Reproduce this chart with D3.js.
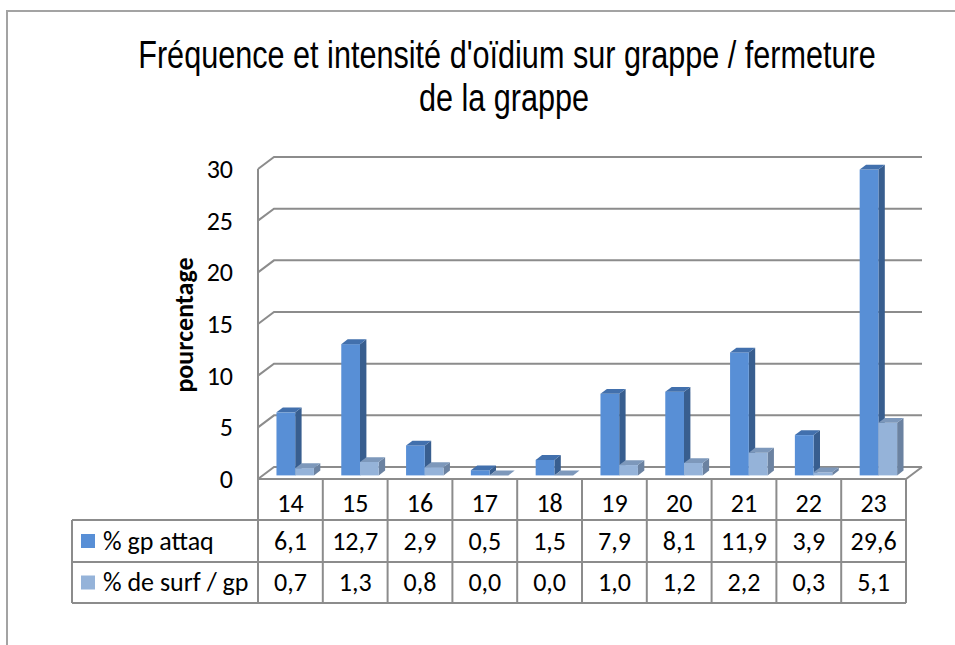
<!DOCTYPE html>
<html>
<head>
<meta charset="utf-8">
<script src="https://cdn.jsdelivr.net/npm/d3@7"></script>
<style>
  html, body { margin: 0; padding: 0; background: #fff; }
  svg { display: block; }
</style>
</head>
<body>
<svg id="chart" width="955" height="645"></svg>
<script>
// ---- data ----
const titleLines = ["Fréquence et intensité d'oïdium sur grappe / fermeture", "de la grappe"];
const yAxisTitle = "pourcentage";
const categories = ["14", "15", "16", "17", "18", "19", "20", "21", "22", "23"];
const seriesNames = ["% gp attaq", "% de surf / gp"];
const gpAttaq = [6.1, 12.7, 2.9, 0.5, 1.5, 7.9, 8.1, 11.9, 3.9, 29.6];
const surfGp = [0.7, 1.3, 0.8, 0.0, 0.0, 1.0, 1.2, 2.2, 0.3, 5.1];
const yTicks = [0, 5, 10, 15, 20, 25, 30];

// ---- styles ----
const seriesValues = [gpAttaq, surfGp];
const faceColors = [
  { front: "#588fd6", side: "#385e8f", top: "#4270ad" },
  { front: "#95b3d9", side: "#6b82a1", top: "#7d98bb" }
];
const gridColor = "#8c8c8c";
const fontMain = "Carlito, Lato, 'Liberation Sans', sans-serif";
const fs = 26;

const svg = d3.select("#chart");

// ---- geometry ----
const DX = 16, DY = -12;             // depth of plot box
const x = d3.scaleBand().domain(categories).range([258, 906]);
const y = d3.scaleLinear().domain([0, 30]).range([479, 169]);
const xs = d3.scaleBand().domain(seriesNames).range([0, x.bandwidth()]).paddingOuter(0.73);
const barOff = 0.3, barDepth = 0.4;

// outer border
svg.append("path")
  .attr("d", "M7,645 L7,11 L955,11")
  .attr("fill", "none").attr("stroke", "#a3a3a3").attr("stroke-width", 2);

// title (horizontally condensed like the reference)
const titleG = svg.append("g")
  .attr("font-family", "'Liberation Sans', Arial, sans-serif")
  .attr("font-size", 39).attr("fill", "#000").attr("text-anchor", "middle");
const t1 = titleG.append("text").text(titleLines[0]);
const squeeze = 738 / t1.node().getComputedTextLength();
t1.attr("transform", `translate(507,68) scale(${squeeze},1)`);
titleG.append("text").text(titleLines[1])
  .attr("transform", `translate(504,111) scale(${squeeze},1)`);

// gridlines: back wall + left wall diagonals
const x0 = x.range()[0], x1 = x.range()[1];
const gridG = svg.append("g").attr("stroke", gridColor).attr("stroke-width", 2).attr("fill", "none");
yTicks.forEach(t => {
  const yy = y(t);
  gridG.append("path").attr("d", `M${x0},${yy} L${x0 + DX},${yy + DY} L${x1 + DX},${yy + DY}`);
});
gridG.append("path").attr("d", `M${x0},${y(0)} L${x1},${y(0)} L${x1 + DX},${y(0) + DY}`);
gridG.append("path").attr("d", `M${x0},${y(30)} L${x0},${y(0)}`);

// y tick labels
svg.append("g").attr("font-family", fontMain).attr("font-size", fs).attr("fill", "#000")
  .attr("text-anchor", "end")
  .selectAll("text").data(yTicks).join("text")
  .attr("x", 233).attr("y", d => y(d)).attr("dy", "0.34em").text(d => d);

// axis title
svg.append("text")
  .attr("transform", "translate(193,325) rotate(-90)")
  .attr("font-family", fontMain).attr("font-size", fs).attr("font-weight", "bold")
  .attr("text-anchor", "middle").text(yAxisTitle);

// bars
const barsG = svg.append("g");
categories.forEach((c, ci) => {
  seriesNames.forEach((s, si) => {
    const v = seriesValues[si][ci];
    const bx = x(c) + xs(s) + DX * barOff;
    const bw = xs.bandwidth();
    const by0 = y(0) + DY * barOff;
    const byT = by0 - (y(0) - y(v));
    const ddx = DX * barDepth, ddy = DY * barDepth;
    const col = faceColors[si];
    const g = barsG.append("g");
    g.append("path").attr("fill", col.side)
      .attr("d", `M${bx + bw},${by0} L${bx + bw + ddx},${by0 + ddy} L${bx + bw + ddx},${byT + ddy} L${bx + bw},${byT} Z`);
    g.append("rect").attr("fill", col.front)
      .attr("x", bx).attr("y", byT).attr("width", bw).attr("height", Math.max(0, by0 - byT));
    g.append("path").attr("fill", col.top)
      .attr("d", `M${bx},${byT} L${bx + ddx},${byT + ddy} L${bx + bw + ddx},${byT + ddy} L${bx + bw},${byT} Z`);
  });
});

// data table
const rowTop = [479, 520, 562, 603];
const tableG = svg.append("g").attr("stroke", gridColor).attr("stroke-width", 2).attr("fill", "none");
[520, 562, 603].forEach(yy => tableG.append("line").attr("x1", 72).attr("x2", x1).attr("y1", yy).attr("y2", yy));
tableG.append("line").attr("x1", 72).attr("x2", 72).attr("y1", 520).attr("y2", 603);
categories.forEach(c => {
  tableG.append("line").attr("x1", x(c)).attr("x2", x(c)).attr("y1", 479).attr("y2", 603);
});
tableG.append("line").attr("x1", x1).attr("x2", x1).attr("y1", 479).attr("y2", 603);

const fmt = v => d3.format(".1f")(v).replace(".", ",");
const txtG = svg.append("g").attr("font-family", fontMain).attr("font-size", fs).attr("fill", "#000");
txtG.selectAll("text.cat").data(categories).join("text").attr("class", "cat")
  .attr("x", d => x(d) + x.bandwidth() / 2).attr("y", (rowTop[0] + rowTop[1]) / 2 + 4)
  .attr("dy", "0.34em").attr("text-anchor", "middle").text(d => d);
seriesNames.forEach((s, si) => {
  const yMid = (rowTop[si + 1] + rowTop[si + 2]) / 2;
  txtG.append("g").selectAll("text").data(seriesValues[si]).join("text")
    .attr("x", (d, i) => x(categories[i]) + x.bandwidth() / 2).attr("y", yMid)
    .attr("dy", "0.34em").attr("text-anchor", "middle").text(d => fmt(d));
  svg.append("rect").attr("x", 81).attr("y", yMid - 7).attr("width", 14).attr("height", 14)
    .attr("fill", faceColors[si].front);
  txtG.append("text").attr("x", 103).attr("y", yMid).attr("dy", "0.34em").text(s);
});
</script>
</body>
</html>
